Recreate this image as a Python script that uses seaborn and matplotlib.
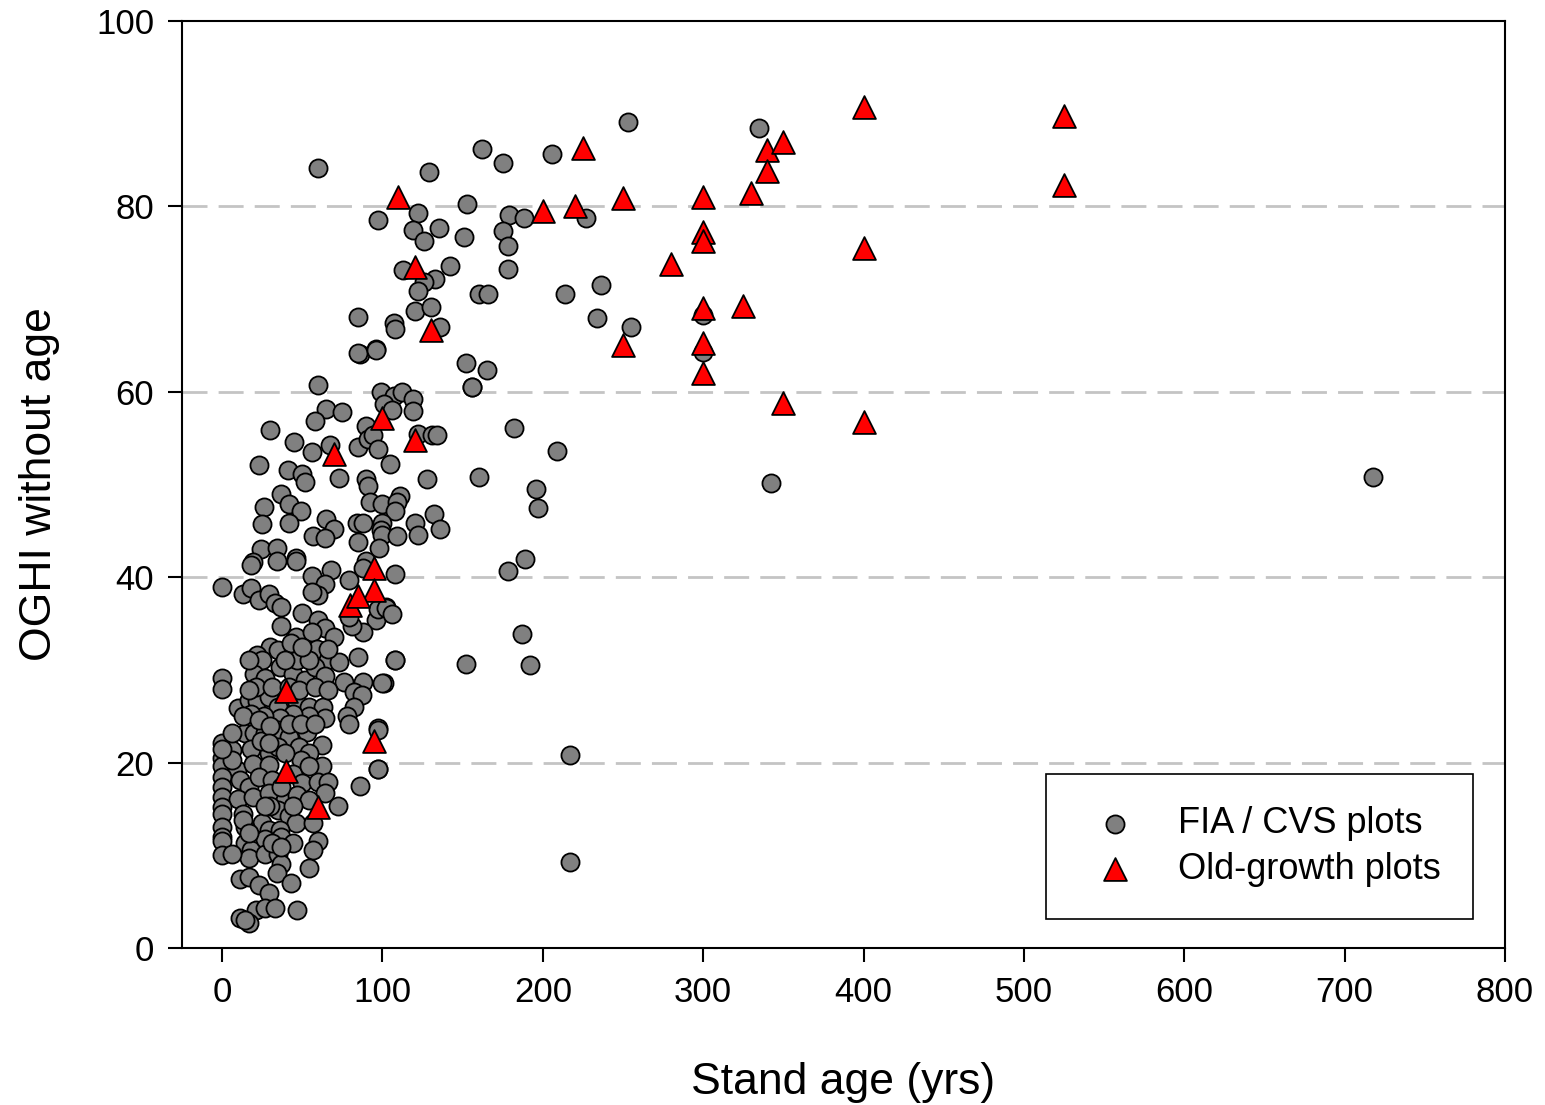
import matplotlib
matplotlib.use("Agg")
import matplotlib.pyplot as plt
import seaborn as sns
import pandas as pd

# FIA / CVS plots (stand age, OGHI without age)
fia_age = [
    253, 162, 175, 206, 60, 129, 153, 97, 122, 119, 135, 126, 151, 179, 188, 175, 178, 178, 227,
    113, 142, 133, 126, 122, 160, 166, 214, 236, 234, 255, 120, 130, 136, 85, 107, 108, 86, 96,
    152, 165, 156, 182, 209, 335, 342, 718, 300, 300,
    85, 96, 60, 156, 99, 107, 112, 119, 101, 106, 119, 65, 75, 58, 30, 45, 56, 67, 85, 90,
    91, 94, 97, 122, 131, 134, 105, 128, 160, 23, 41, 50, 52, 73, 90, 91, 37, 42, 49, 26,
    92, 100, 111, 109, 108, 132, 136, 25, 42, 65, 70, 57, 64, 84, 88, 100, 99, 100, 109, 120,
    122, 85, 98, 24, 34, 46, 19, 90,
    196, 197, 189, 178, 187, 192, 152, 217, 217,
    18, 34, 46, 68, 0, 13, 18, 23, 29, 33, 37, 56, 64, 60, 56, 79, 88, 108, 102, 96, 88, 81,
    79, 50, 60, 64, 70, 37, 46, 56, 30, 22, 25, 35, 44, 59, 66, 73, 85, 108, 20, 27, 36, 44,
    52, 58, 64, 76, 88, 101, 0, 0, 10, 17, 22, 29, 35, 46, 54, 63, 82, 87, 82, 78, 79, 64, 54,
    44, 36, 26, 18, 14, 20, 27, 35, 42, 53, 97, 0, 6, 18, 29, 24, 35, 48, 62, 54, 0, 0, 9, 19,
    29, 49, 62, 97, 0, 11, 17, 23, 31, 44, 50, 60, 66, 64, 86, 0, 0, 10, 19, 29, 39, 47, 54, 72,
    0, 0, 13, 25, 35, 30, 42, 46, 57, 0, 14, 29, 36, 0, 0, 14, 18, 27, 37, 44, 60, 57, 0, 17,
    27, 35, 37, 34, 11, 17, 23, 29, 43, 54, 21, 27, 33, 47, 11, 17, 14,
    43, 47, 54, 39, 50, 66, 17, 21, 31, 42, 48, 58, 66, 17, 13, 23, 30, 42, 49, 58, 6, 6, 29,
    39, 54, 37, 27, 44, 13, 17, 31, 37, 6, 97, 102, 106, 100, 97, 97, 108, 0,
]
fia_oghi = [
    89.1, 86.2, 84.7, 85.7, 84.1, 83.7, 80.3, 78.5, 79.3, 77.5, 77.7, 76.3, 76.7, 79.1, 78.8, 77.3, 75.7, 73.3, 78.7,
    73.1, 73.6, 72.2, 71.9, 70.9, 70.5, 70.5, 70.6, 71.5, 68.0, 67.0, 68.7, 69.2, 67.0, 68.1, 67.4, 66.8, 64.1, 64.6,
    63.1, 62.4, 60.5, 56.1, 53.6, 88.5, 50.2, 50.8, 68.3, 64.3,
    64.2, 64.5, 60.7, 60.5, 60.0, 59.6, 60.0, 59.2, 58.7, 58.0, 57.9, 58.1, 57.8, 56.9, 55.9, 54.6, 53.5, 54.3, 54.1, 56.3,
    54.9, 55.3, 53.8, 55.4, 55.3, 55.3, 52.2, 50.6, 50.8, 52.1, 51.6, 51.1, 50.3, 50.7, 50.6, 49.8, 49.0, 47.9, 47.2, 47.6,
    48.1, 47.9, 48.8, 48.1, 47.2, 46.8, 45.2, 45.7, 45.8, 46.3, 45.2, 44.5, 44.2, 45.9, 45.8, 45.8, 45.1, 44.6, 44.4, 45.9,
    44.6, 43.8, 43.2, 43.0, 43.2, 42.1, 41.6, 41.8,
    49.5, 47.5, 42.0, 40.7, 33.9, 30.5, 30.6, 20.8, 9.3,
    41.3, 41.7, 41.8, 40.8, 39.0, 38.2, 38.8, 37.5, 38.2, 37.2, 36.8, 40.1, 39.3, 38.1, 38.4, 39.7, 41.0, 40.4, 36.8, 35.4, 34.1, 34.7,
    35.7, 36.1, 35.4, 34.5, 33.6, 34.7, 33.6, 34.1, 32.5, 31.6, 31.1, 32.1, 31.8, 32.3, 31.1, 30.9, 31.4, 31.1, 29.6, 29.1, 30.3, 29.6,
    28.9, 30.3, 29.3, 28.7, 28.7, 28.6, 29.1, 28.0, 25.9, 26.8, 26.6, 27.1, 26.0, 26.8, 26.0, 26.0, 27.6, 27.3, 26.0, 25.0, 24.2, 24.8, 25.0,
    25.3, 24.8, 25.0, 25.3, 23.2, 23.2, 23.2, 23.5, 22.8, 23.3, 23.7, 22.1, 21.4, 21.5, 21.0, 22.3, 21.7, 21.7, 21.9, 21.0, 20.5, 19.6, 19.2, 19.9,
    19.7, 20.3, 19.6, 19.3, 18.5, 18.1, 17.4, 18.5, 18.1, 18.8, 17.8, 17.9, 17.9, 16.7, 17.5, 17.4, 16.3, 16.1, 16.3, 16.7, 16.0, 16.5, 16.0, 15.3,
    15.2, 14.5, 14.5, 13.5, 14.9, 15.3, 14.3, 13.5, 13.5, 13.1, 13.1, 12.7, 12.7, 12.0, 11.5, 11.3, 10.6, 11.8, 12.0, 11.3, 11.5, 10.6, 10.0, 9.7,
    10.2, 10.2, 9.1, 8.1, 7.5, 7.7, 6.8, 5.9, 7.0, 8.6, 4.1, 4.3, 4.3, 4.1, 3.2, 2.7, 3.0,
    32.9, 31.1, 31.1, 31.1, 32.5, 32.3, 31.1, 28.2, 28.2, 28.2, 27.8, 28.2, 27.8, 27.8, 25.0, 24.6, 24.0, 24.2, 24.2, 24.2, 23.2, 20.3, 22.1,
    21.0, 19.6, 17.4, 15.3, 15.3, 13.8, 12.4, 11.3, 10.9, 10.2, 36.6, 36.7, 36.0, 28.6, 23.5, 19.3, 31.1, 21.5,
]

# Old-growth plots
og_age = [110, 120, 130, 70, 100, 120, 95, 95, 80, 85, 40, 40, 60, 95,
          200, 220, 225, 250, 250, 280, 300, 300, 300, 300, 300, 300, 325, 330,
          340, 340, 350, 350, 400, 400, 400, 525, 525]
og_oghi = [81.0, 73.5, 66.7, 53.3, 57.2, 54.8, 41.0, 38.6, 37.0, 38.0, 27.7, 19.1, 15.2, 22.3,
           79.5, 80.0, 86.3, 80.9, 65.0, 73.8, 81.0, 77.2, 76.3, 69.0, 65.3, 62.0, 69.3, 81.5,
           86.1, 83.8, 87.0, 58.8, 90.7, 75.5, 56.8, 89.8, 82.3]

fia = pd.DataFrame({"age": fia_age, "oghi": fia_oghi})
og = pd.DataFrame({"age": og_age, "oghi": og_oghi})

sns.set_style("ticks")
plt.rcParams["font.family"] = ["Liberation Sans", "DejaVu Sans"]
plt.rcParams["text.color"] = "black"
plt.rcParams["axes.labelcolor"] = "black"
plt.rcParams["xtick.color"] = "black"
plt.rcParams["ytick.color"] = "black"

fig = plt.figure(figsize=(15.45, 11.05), dpi=100)
ax = fig.add_axes([0.1178, 0.142, 0.8563, 0.839])

for y in [20, 40, 60, 80]:
    ax.axhline(y, color="#c4c4c4", lw=2, dashes=(9, 4), zorder=0)

sns.scatterplot(data=fia, x="age", y="oghi", ax=ax, marker="o", s=170,
                color="#808080", edgecolor="black", linewidth=1.3,
                label="FIA / CVS plots", zorder=2)
sns.scatterplot(data=og, x="age", y="oghi", ax=ax, marker="^", s=270,
                color="#ff0000", edgecolor="black", linewidth=1.3,
                label="Old-growth plots", zorder=3)

ax.set_xlim(-25, 800)
ax.set_ylim(0, 100)
ax.set_xticks(range(0, 801, 100))
ax.set_yticks(range(0, 101, 20))
ax.tick_params(axis="both", labelsize=25, length=10, width=1.5, direction="out",
               top=False, right=False, pad=10)
for sp in ax.spines.values():
    sp.set_linewidth(1.5)
    sp.set_color("black")

ax.set_xlabel("Stand age (yrs)", fontsize=32, labelpad=38)
ax.set_ylabel("OGHI without age", fontsize=32, labelpad=26)

leg = ax.legend(loc="lower right", bbox_to_anchor=(0.976, 0.031), fontsize=26,
                frameon=True, fancybox=False, edgecolor="black", framealpha=1,
                borderpad=0.9, handletextpad=0.75, labelspacing=0.3, borderaxespad=0)
leg.get_frame().set_linewidth(1.2)

fig.savefig("out.png", dpi=100)
